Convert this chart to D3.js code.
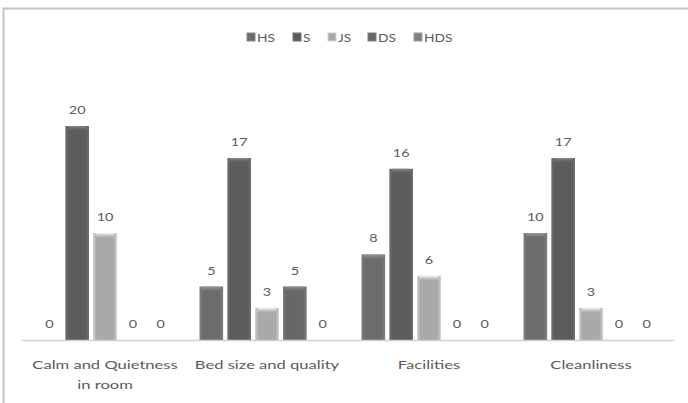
<!DOCTYPE html>
<html>
<head>
<meta charset="utf-8">
<script src="https://cdn.jsdelivr.net/npm/d3@7"></script>
<style>
  html, body { margin: 0; padding: 0; background: #fff; }
  svg { display: block; }
  text { font-family: Lato, "Open Sans", sans-serif; fill: #5a5a5a; }
</style>
</head>
<body>
<svg id="chart" width="688" height="403"></svg>
<script>
// Survey answers per aspect of the stay
const categories = [["Calm and Quietness", "in room"], ["Bed size and quality"], ["Facilities"], ["Cleanliness"]];
const seriesNames = ["HS", "S", "JS", "DS", "HDS"];
const HS  = [0, 5, 8, 10];
const S   = [20, 17, 16, 17];
const JS  = [10, 3, 6, 3];
const DS  = [0, 5, 0, 0];
const HDS = [0, 0, 0, 0];
const seriesValues = [HS, S, JS, DS, HDS];
const seriesColors = ["#6c6c6c", "#5c5c5c", "#a9a9a9", "#676767", "#7f7f7f"];

const svg = d3.select("#chart");

// outer frame (top and left edges visible)
svg.append("rect").attr("x", 3.5).attr("y", 8.5).attr("width", 700).attr("height", 420)
  .attr("fill", "none").attr("stroke", "#c4c4c4").attr("stroke-width", 2);

const x0 = d3.scaleBand().domain(d3.range(categories.length)).range([24, 672]).padding(0);
const x1 = d3.scaleBand().domain(seriesNames).range([0, 135]).paddingInner(0.15);
const y = d3.scaleLinear().domain([0, 20]).range([340, 126]);

// wide text: positioned by transform so it can be stretched horizontally
function wideText(sel, sx) {
  return sel.attr("transform", function () {
    const tx = +this.getAttribute("data-x"), ty = +this.getAttribute("data-y");
    return `translate(${tx},${ty}) scale(${sx},1)`;
  });
}

// bevel gradients per series
const defs = svg.append("defs");
seriesColors.forEach((c, i) => {
  const base = d3.color(c);
  const g = defs.append("linearGradient").attr("id", "side" + i)
    .attr("x1", "0").attr("x2", "1").attr("y1", "0").attr("y2", "0");
  g.append("stop").attr("offset", "0").attr("stop-color", base.brighter(0.5));
  g.append("stop").attr("offset", "0.15").attr("stop-color", base);
  g.append("stop").attr("offset", "0.85").attr("stop-color", base);
  g.append("stop").attr("offset", "1").attr("stop-color", base.brighter(0.5));
  const t = defs.append("linearGradient").attr("id", "cap" + i)
    .attr("x1", "0").attr("x2", "0").attr("y1", "0").attr("y2", "1");
  t.append("stop").attr("offset", "0").attr("stop-color", base.brighter(1.1));
  t.append("stop").attr("offset", "1").attr("stop-color", base).attr("stop-opacity", 0);
});

const rows = [];
categories.forEach((cat, ci) => {
  seriesNames.forEach((s, si) => rows.push({ ci, si, s, v: seriesValues[si][ci] }));
});

const groupOffset = (x0.bandwidth() - 135) / 2;
const bx = d => x0(d.ci) + groupOffset + x1(d.s);

const bars = svg.append("g");
bars.selectAll("rect.bar").data(rows.filter(d => d.v > 0)).join("rect")
  .attr("class", "bar")
  .attr("x", bx).attr("width", x1.bandwidth())
  .attr("y", d => y(d.v)).attr("height", d => y(0) - y(d.v))
  .attr("fill", d => `url(#side${d.si})`);
bars.selectAll("rect.cap").data(rows.filter(d => d.v > 0)).join("rect")
  .attr("class", "cap")
  .attr("x", d => bx(d) + 2).attr("width", x1.bandwidth() - 4)
  .attr("y", d => y(d.v)).attr("height", 6)
  .attr("rx", 2)
  .attr("fill", d => `url(#cap${d.si})`);

// value labels
svg.append("g").selectAll("text").data(rows).join("text")
  .attr("data-x", d => bx(d) + x1.bandwidth() / 2)
  .attr("data-y", d => y(d.v) - 12)
  .attr("text-anchor", "middle")
  .attr("font-size", 12)
  .text(d => d.v)
  .call(wideText, 1.2);

// category axis
svg.append("line").attr("x1", 22).attr("x2", 674).attr("y1", 340.5).attr("y2", 340.5)
  .attr("stroke", "#cfcfcf").attr("stroke-width", 1.5);
const catLabels = svg.append("g").selectAll("text").data(categories).join("text")
  .attr("data-x", (d, i) => x0(i) + x0.bandwidth() / 2)
  .attr("data-y", 369)
  .attr("text-anchor", "middle")
  .attr("font-size", 12)
  .call(wideText, 1.38);
catLabels.selectAll("tspan").data(d => d).join("tspan")
  .attr("x", 0)
  .attr("dy", (d, i) => i === 0 ? 0 : 20)
  .text(d => d);

// legend
const legendX = [247, 293, 328, 368, 414];
const legend = svg.append("g").selectAll("g").data(seriesNames).join("g")
  .attr("transform", (d, i) => `translate(${legendX[i]},33)`);
legend.append("rect").attr("width", 8).attr("height", 8)
  .attr("fill", (d, i) => seriesColors[i]).attr("stroke", (d, i) => d3.color(seriesColors[i]).brighter(0.6));
legend.append("text").attr("data-x", 10).attr("data-y", 8.5).attr("font-size", 11)
  .text(d => d).call(wideText, 1.25);
</script>
</body>
</html>
